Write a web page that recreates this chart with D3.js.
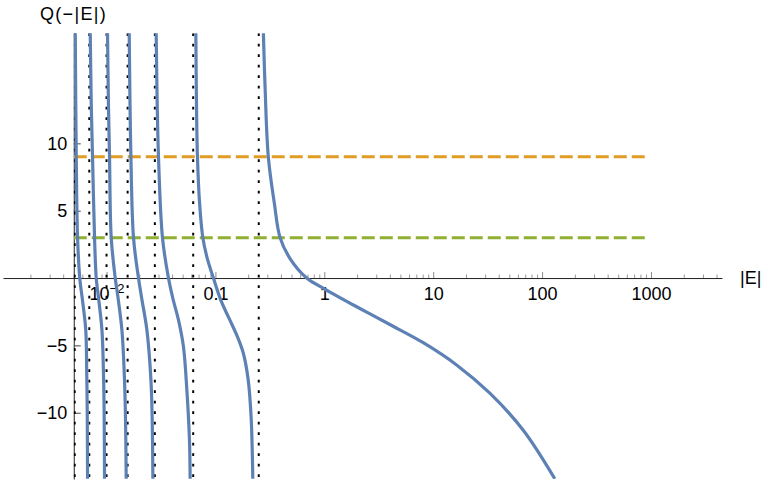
<!DOCTYPE html>
<html>
<head>
<meta charset="utf-8">
<script src="https://cdn.jsdelivr.net/npm/d3@7"></script>
<style>
  html, body { margin: 0; padding: 0; background: #fff; }
  svg { display: block; }
  text { font-family: "Liberation Sans", Arial, sans-serif; fill: #000; }
</style>
</head>
<body>
<svg id="chart" width="765" height="485"></svg>
<script>
// ---------------- data ----------------
// vertical dotted asymptotes (|E| values)
const asymptotes = [0.005102, 0.006944, 0.01, 0.015625, 0.02778, 0.0625, 0.25];

// blue curve, one branch between each pair of asymptotes (|E|, Q)
const branch1E = [0.005163, 0.005272, 0.005419, 0.005677, 0.006047, 0.006446, 0.006579, 0.006650, 0.006693];
const branch1Q = [18.2, 9, 3, 0, -1.8, -3.86, -7, -10, -14.9];

const branch2E = [0.007087, 0.007237, 0.007439, 0.007760, 0.008043, 0.008392, 0.009076, 0.009369, 0.009508, 0.009587];
const branch2Q = [18.2, 13, 9, 3, 0, -1.3, -3.86, -7, -10, -14.9];

const branch3E = [0.010214, 0.010409, 0.010653, 0.011042, 0.012020, 0.012673, 0.013843, 0.014533, 0.014906, 0.015159];
const branch3Q = [18.2, 13, 9, 3, 0, -1.3, -3.86, -7, -10, -14.9];

const branch4E = [0.016152, 0.016426, 0.016742, 0.017686, 0.019655, 0.021033, 0.023478, 0.025547, 0.026264, 0.026651];
const branch4Q = [18.2, 13, 9, 3, 0, -1.5, -3.86, -7.5, -10.5, -14.9];

const branch5E = [0.028576, 0.029182, 0.029997, 0.032642, 0.037051, 0.040917, 0.04576, 0.05085, 0.05465, 0.05774, 0.05860];
const branch5Q = [18.2, 13, 9, 3, 0, -1.6, -3.11, -5.09, -8.3, -12, -14.9];

const branch6E = [0.06610, 0.06694, 0.06838, 0.07162, 0.07662, 0.08389, 0.09587, 0.1128, 0.13357, 0.15814, 0.18066, 0.19953, 0.21264, 0.22042];
const branch6Q = [18.2, 13.2, 9, 5.5, 3, 1.5, 0, -1.7, -3.0, -4.3, -5.6, -7.5, -10.3, -14.9];

const branch7E = [0.2757, 0.2857, 0.306, 0.3477, 0.3924, 0.4844, 0.6896, 1.0, 2.0, 4.0, 8.1, 16.4, 33.1, 66.9, 130.8];
const branch7Q = [18.2, 14.2, 9, 5.55, 3, 1.45, 0, -0.8, -2.15, -3.45, -4.8, -6.45, -8.55, -11.28, -14.9];

// horizontal dashed reference levels
const levelValues = [9, 3];
const levelExtentE = [0.005, 930];

// axes
const xMajorTicks = [0.01, 0.1, 1, 10, 100, 1000];
const xMajorLabels = ["10^-2", "0.1", "1", "10", "100", "1000"];
const yTicks = [-10, -5, 5, 10];
const yTickLabels = ["\u221210", "\u22125", "5", "10"];
const xAxisLabel = "|E|";
const yAxisLabel = "Q(\u2212|E|)";

// ---------------- drawing ----------------
const svg = d3.select("#chart");

const x = d3.scaleLog().domain([0.00112, 4490]).range([3, 722]);
const y = d3.scaleLinear().domain([-14.92, 18.17]).range([479, 33.3]);
const yAxisAtE = 0.005;
const x0 = x(yAxisAtE);

const blue = "#5E81B5", orange = "#E19C24", green = "#8FB032";

// clip for plot region
svg.append("defs").append("clipPath").attr("id", "plotclip")
  .append("rect")
  .attr("x", x0).attr("y", y.range()[1])
  .attr("width", x.range()[1] - x0)
  .attr("height", y.range()[0] - y.range()[1]);

// x axis minor ticks
const minorTicks = x.ticks().filter(v => Math.abs(Math.log10(v) - Math.round(Math.log10(v))) > 1e-6);
const xg = svg.append("g").attr("transform", `translate(0,${y(0)})`);
xg.append("g").call(d3.axisBottom(x).tickValues(minorTicks).tickSizeInner(-3.5).tickSizeOuter(0).tickFormat(""))
  .call(g => g.select(".domain").remove())
  .call(g => g.selectAll(".tick line").attr("stroke", "#9a9a9a"));
xg.append("g").call(d3.axisBottom(x).tickValues(xMajorTicks).tickSizeInner(-6).tickSizeOuter(0).tickPadding(9)
    .tickFormat((d, i) => xMajorLabels[i]))
  .call(g => g.select(".domain").attr("stroke", "#222").attr("stroke-width", 1))
  .call(g => g.selectAll(".tick line").attr("stroke", "#8a8a8a"))
  .call(g => g.selectAll(".tick text")
    .attr("font-size", 18).attr("font-family", "Liberation Sans, Arial, sans-serif").attr("fill", "#000")
    .each(function(d, i) {
      const lab = xMajorLabels[i];
      if (lab.includes("^")) {
        const [base, exp] = lab.split("^");
        const t = d3.select(this).text(null);
        t.append("tspan").text(base);
        t.append("tspan").attr("font-size", 13).attr("dy", "-0.55em").text(exp.replace("-", "\u2212"));
      }
    }));

// y axis
const yg = svg.append("g").attr("transform", `translate(${x0},0)`);
yg.call(d3.axisLeft(y).tickValues(yTicks).tickSizeInner(-7).tickSizeOuter(0).tickPadding(6.5)
    .tickFormat((d, i) => yTickLabels[i]))
  .call(g => g.select(".domain").attr("stroke", "#222").attr("stroke-width", 1))
  .call(g => g.selectAll(".tick line").attr("stroke", "#444"))
  .call(g => g.selectAll(".tick text").attr("font-size", 18)
    .attr("font-family", "Liberation Sans, Arial, sans-serif").attr("fill", "#000"));

// axis labels
svg.append("text").attr("x", 40).attr("y", 19.5).attr("font-size", 18)
  .attr("letter-spacing", 1.3).text(yAxisLabel);
svg.append("text").attr("x", 740).attr("y", 284).attr("font-size", 18).text(xAxisLabel);

const plot = svg.append("g").attr("clip-path", "url(#plotclip)");

// dotted asymptotes
plot.selectAll("line.asym").data(asymptotes).join("line")
  .attr("class", "asym")
  .attr("x1", d => x(d)).attr("x2", d => x(d))
  .attr("y1", y.range()[1]).attr("y2", y.range()[0])
  .attr("stroke", "#000").attr("stroke-width", 2)
  .attr("stroke-dasharray", "2.6 7.9");

// dashed levels
const levelColors = [orange, green];
plot.selectAll("line.level").data(levelValues).join("line")
  .attr("class", "level")
  .attr("x1", x(levelExtentE[0])).attr("x2", x(levelExtentE[1]))
  .attr("y1", d => y(d)).attr("y2", d => y(d))
  .attr("stroke", (d, i) => levelColors[i]).attr("stroke-width", 3)
  .attr("stroke-dasharray", "13 5");

// blue branches
const branches = [
  [branch1E, branch1Q], [branch2E, branch2Q], [branch3E, branch3Q], [branch4E, branch4Q],
  [branch5E, branch5Q], [branch6E, branch6Q], [branch7E, branch7Q]
].map(([E, Q]) => E.map((e, i) => [e, Q[i]]));

const line = d3.line().x(d => x(d[0])).y(d => y(d[1])).curve(d3.curveCatmullRom.alpha(0.5));
plot.selectAll("path.branch").data(branches).join("path")
  .attr("class", "branch")
  .attr("d", line)
  .attr("fill", "none").attr("stroke", blue).attr("stroke-width", 3.2)
  .attr("stroke-linejoin", "round");
</script>
</body>
</html>
